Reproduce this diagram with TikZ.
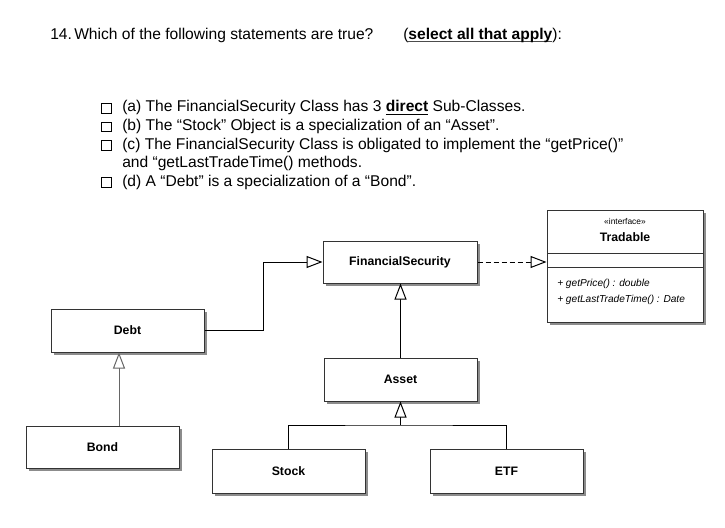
\documentclass[tikz,border=0pt]{standalone}
\usepackage{fontspec}
\setmainfont{Liberation Sans}
\usetikzlibrary{arrows.meta,shadows}
\newcommand\myul[1]{\setbox0\hbox{#1}\rlap{\color{black!70}\rule[-1.4pt]{\wd0}{0.9pt}}\box0}
\tikzset{
  cls/.style={draw=black!80, line width=0.75pt, fill=white, inner sep=0pt,
    minimum width=114.75pt, minimum height=32.25pt,
    font=\fontsize{9.2pt}{10pt}\selectfont\bfseries,
    drop shadow={shadow xshift=2pt, shadow yshift=-2pt, fill=black!45, opacity=1}},
  txt/.style={anchor=base west, inner sep=0pt, font=\fontsize{11.7pt}{14pt}\selectfont},
  cbox/.style={draw=black, line width=0.95pt, minimum width=7pt, minimum height=7pt, inner sep=0pt},
  conn/.style={draw=black, line width=0.75pt},
  gen/.style={conn, -{Triangle[length=12pt,width=9pt,fill=white,line width=0.75pt]}},
  meth/.style={anchor=base west, inner sep=0pt, font=\fontsize{7.6pt}{9pt}\selectfont\itshape},
}
\begin{document}
\begin{tikzpicture}[x=0.75pt,y=-0.75pt]
\useasboundingbox[fill=white] (0,0) rectangle (725,528);
% question
\node[txt] (q1) at (50,40) {14.};
\node[txt] (q2) at (74,40) {Which of the following statements are true?};
\node[txt] (q3) at (403,40) {(\myul{\textbf{select all that apply}}):};
% items
\node[cbox] (ca) at (106.5,108.5) {};
\node[cbox] (cb) at (106.5,127) {};
\node[cbox] (cc) at (106.5,145.5) {};
\node[cbox] (cd) at (106.5,182.5) {};
\node[txt] (ta) at (122,112) {(a) The FinancialSecurity Class has 3 \underline{\textbf{direct}} Sub-Classes.};
\node[txt] (tb) at (122,130.5) {(b) The “Stock” Object is a specialization of an “Asset”.};
\node[txt] (tc) at (122,149) {(c) The FinancialSecurity Class is obligated to implement the “getPrice()”};
\node[txt] (tc2) at (122,167.5) {and “getLastTradeTime() methods.};
\node[txt] (td) at (122,186) {(d) A “Debt” is a specialization of a “Bond”.};
% classes
\node[cls, minimum width=115.5pt, minimum height=31.5pt] (fs) at (400,262) {FinancialSecurity};
\node[cls] (debt) at (127.5,330.5) {Debt};
\node[cls, minimum height=31.5pt] (bond) at (102.5,447) {Bond};
\node[cls] (asset) at (400.5,379.5) {Asset};
\node[cls, minimum height=33pt] (stock) at (288.5,471) {Stock};
\node[cls, minimum height=33pt] (etf) at (506.5,471) {ETF};
% interface
\node[cls, minimum width=117pt, minimum height=84pt] (trad) at (625,266) {};
\draw[draw=black!80, line width=0.75pt] (547,253) -- (703,253) (547,267) -- (703,267);
\node[inner sep=0pt, anchor=base, font=\fontsize{6.3pt}{7pt}\selectfont] (stereo) at (625,224) {«interface»};
\node[inner sep=0pt, anchor=base, font=\fontsize{9.2pt}{10pt}\selectfont\bfseries] (tname) at (625,241) {Tradable};
\node[meth] (m1) at (557,286) {+ getPrice() : double};
\node[meth] (m2) at (557,302) {+ getLastTradeTime() : Date};
% connectors
\draw[gen, dash pattern=on 3.75pt off 2.25pt] (fs.east) -- (fs.east -| trad.west);
\draw[gen] (debt.east) -- ++(59,0) |- (fs.west);
\draw[gen] (asset.north) -- (asset.north |- fs.south);
\coordinate (xl) at (119,0);
\draw[gen, draw=black!60] (bond.north -| xl) -- (debt.south -| xl);
\coordinate (jn) at (400.5,425);
\draw[gen] (jn) -- (asset.south);
\draw[conn] (stock.north) |- (jn) -| (etf.north);
\end{tikzpicture}
\end{document}
